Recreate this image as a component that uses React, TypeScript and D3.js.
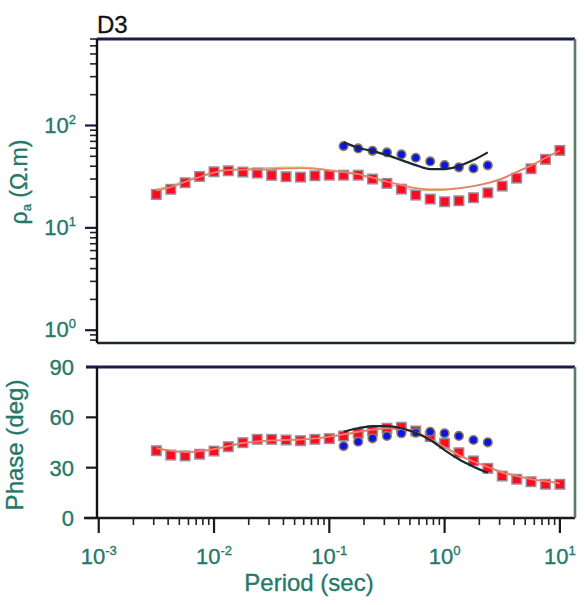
import React from "react";
import * as d3 from "d3";

// Periods (s) of the soundings
const periods = [
  0.00316, 0.00422, 0.00562, 0.0075, 0.01, 0.0133, 0.0178, 0.0237, 0.0316, 0.0422,
  0.0562, 0.075, 0.1, 0.133, 0.178, 0.237, 0.316, 0.422, 0.562, 0.75,
  1.0, 1.33, 1.78, 2.37, 3.16, 4.22, 5.62, 7.5, 10,
];
// Red data (rho_a, phase)
const redRho = [
  21.2, 23.8, 27.6, 31.8, 35.3, 36.1, 35.1, 34.3, 32.6, 31.6,
  31.3, 32.3, 32.7, 32.7, 32.7, 30.0, 27.2, 23.9, 20.9, 19.1,
  18.0, 18.4, 19.7, 22.0, 25.6, 30.6, 37.8, 46.7, 57.1,
];
const redPhase = [
  40.1, 37.5, 37.0, 38.0, 39.9, 42.5, 44.9, 46.9, 46.9, 46.5,
  46.1, 46.9, 47.3, 48.9, 50.5, 52.0, 53.5, 54.1, 51.9, 48.5,
  44.5, 38.9, 34.0, 29.6, 25.0, 23.1, 21.6, 20.1, 20.1,
];
// Red model curves
const redModelRho = [
  23.1, 25.0, 28.1, 31.3, 34.7, 36.7, 37.1, 37.1, 37.5, 38.1,
  38.4, 37.9, 36.3, 35.1, 33.5, 31.0, 28.3, 26.2, 24.5, 23.8,
  23.8, 24.5, 25.6, 27.4, 30.3, 35.1, 40.6, 48.1, 56.9,
];
const redModelPhase = [
  41.6, 40.2, 39.3, 39.9, 41.1, 42.9, 44.7, 45.6, 46.2, 46.5,
  46.8, 47.4, 48.5, 49.8, 51.4, 52.7, 53.5, 53.0, 51.0, 47.1,
  42.3, 37.5, 33.7, 30.4, 27.1, 25.0, 23.2, 21.8, 20.7,
];
const redModel2Rho = [
  23.9, 25.9, 29.0, 32.1, 35.5, 37.5, 37.9, 38.4, 38.8, 39.3,
  39.3, 38.4, 36.7, 34.7, 32.8, 30.0, 27.1, 24.8, 23.4, 23.1,
  23.4, 24.2, 25.6, 27.7, 30.6, 35.5, 41.0, 48.6, 57.5,
];
const redModel2Phase = [
  41.0, 39.5, 38.8, 39.5, 40.8, 42.5, 44.3, 45.3, 46.0, 46.3,
  46.6, 47.0, 48.0, 49.3, 50.8, 52.2, 53.0, 52.6, 50.5, 46.6,
  42.0, 37.6, 34.0, 30.8, 27.6, 25.5, 23.7, 22.3, 21.2,
];
// Blue data
const bluePeriods = [0.133, 0.178, 0.237, 0.316, 0.422, 0.562, 0.75, 1.0, 1.33, 1.78, 2.37];
const blueRho = [62.9, 59.7, 56.6, 54.6, 52.2, 48.4, 44.6, 41.0, 39.0, 38.1, 40.8];
const bluePhase = [42.9, 45.5, 47.5, 48.9, 50.5, 50.8, 51.4, 50.5, 48.9, 46.5, 45.1];
// Black model curve
const blackModelRho = [68.4, 60.6, 56.2, 51.4, 45.9, 41.0, 37.5, 37.5, 40.2, 45.9, 54.6];
const blackModelPhase = [51.4, 53.5, 54.8, 54.8, 53.5, 50.8, 46.5, 40.5, 35.0, 30.6, 27.0];

// Axis ticks
const xMajorTicks = [0.001, 0.01, 0.1, 1, 10];
const xMajorExp = ["-3", "-2", "-1", "0", "1"];
const rhoMajorTicks = [1, 10, 100];
const rhoMajorExp = ["0", "1", "2"];
const phaseTicks = [0, 30, 60, 90];

const W = 585;
const H = 605;
const L = 97;
const R = 575;
const TOP1 = 39;
const BOT1 = 343;
const TOP2 = 367;
const BOT2 = 518;

const TEXT = "#26786a";
const FONT = "'Liberation Sans', Arial, Helvetica, sans-serif";

export default function App() {
  const x = d3.scaleLog().domain([Math.pow(10, -3.015), Math.pow(10, 1.131)]).range([L, R]);
  const yr = d3.scaleLog().domain([0.75, 700]).range([BOT1, TOP1]);
  const yp = d3.scaleLinear().domain([0, 90]).range([BOT2, TOP2]);

  const lineRho = d3.line<[number, number]>().x((d) => x(d[0])).y((d) => yr(d[1])).curve(d3.curveMonotoneX);
  const linePh = d3.line<[number, number]>().x((d) => x(d[0])).y((d) => yp(d[1])).curve(d3.curveMonotoneX);
  const zip = (a: number[], b: number[]) => a.map((v, i) => [v, b[i]] as [number, number]);

  const xMinor = x.ticks().filter((t) => !xMajorTicks.some((m) => Math.abs(m - t) / m < 1e-6));
  const rMinor = yr.ticks().filter((t) => !rhoMajorTicks.some((m) => Math.abs(m - t) / m < 1e-6));

  const sq = 9.5;
  const redMarks = (ys: (v: number) => number, vals: number[]) =>
    periods.map((p, i) => (
      <rect key={i} x={x(p) - sq / 2} y={ys(vals[i]) - sq / 2} width={sq} height={sq}
        fill="#ff0a1e" stroke="#9c8c9c" strokeWidth={1.5} />
    ));
  const blueMarks = (ys: (v: number) => number, vals: number[]) =>
    bluePeriods.map((p, i) => (
      <circle key={i} cx={x(p)} cy={ys(vals[i])} r={4.3} fill="#0a14e6" stroke="#8c7c5c" strokeWidth={1.6} />
    ));

  const txt = { fill: TEXT, stroke: TEXT, strokeWidth: 0.35 };

  return (
    <svg width={W} height={H} style={{ position: "absolute", left: 0, top: 0, background: "#fff" }}
      fontFamily={FONT}>
      {/* Title */}
      <text x={97} y={33} fontSize={24} fill="#111" stroke="#111" strokeWidth={0.3}>D3</text>

      {/* ===== Top panel ===== */}
      {rMinor.map((t, i) => (
        <line key={"rm" + i} x1={L - 7} x2={L} y1={yr(t)} y2={yr(t)} stroke="#222" strokeWidth={1.6} />
      ))}
      {rhoMajorTicks.map((t, i) => (
        <g key={"rM" + i}>
          <line x1={L - 12} x2={L} y1={yr(t)} y2={yr(t)} stroke="#1a1a3a" strokeWidth={2.2} />
          <text x={76} y={yr(t) + 7} textAnchor="end" fontSize={22} {...txt}>
            10<tspan dy={-9} fontSize={13}>{rhoMajorExp[i]}</tspan>
          </text>
        </g>
      ))}
      <text transform={`translate(27,182) rotate(-90)`} textAnchor="middle" fontSize={23} {...txt}>
        ρ<tspan dy={4} fontSize={13}>a</tspan><tspan dy={-4}> (Ω.m)</tspan>
      </text>

      <g>
        <path d={lineRho(zip(periods, redModel2Rho)) || ""} fill="none" stroke="#d6c660" strokeWidth={1.2} />
        {redMarks(yr, redRho)}
        {blueMarks(yr, blueRho)}
        <path d={lineRho(zip(periods, redModelRho)) || ""} fill="none" stroke="#e8806e" strokeWidth={1.8} />
        <path d={lineRho(zip(bluePeriods, blackModelRho)) || ""} fill="none" stroke="#1a2a30" strokeWidth={2.2} />
      </g>

      <line x1={L} x2={R} y1={TOP1} y2={TOP1} stroke="#1c1c4c" strokeWidth={3} />
      <line x1={L} x2={R} y1={BOT1} y2={BOT1} stroke="#1a2a22" strokeWidth={2.4} />
      <line x1={L} x2={L} y1={TOP1} y2={BOT1} stroke="#111" strokeWidth={2.4} />
      <line x1={R} x2={R} y1={TOP1} y2={BOT1} stroke="#5a7a6a" strokeWidth={2.6} />

      {/* ===== Bottom panel ===== */}
      {phaseTicks.map((t, i) => (
        <g key={"p" + i}>
          <line x1={L - 11} x2={L} y1={yp(t)} y2={yp(t)} stroke="#1a1a1a" strokeWidth={2.2} />
          <text x={74} y={yp(t) + 8} textAnchor="end" fontSize={22} {...txt}>{t}</text>
        </g>
      ))}
      <text transform={`translate(23,445) rotate(-90)`} textAnchor="middle" fontSize={24} {...txt}>
        Phase (deg)
      </text>

      <g>
        <path d={linePh(zip(periods, redModel2Phase)) || ""} fill="none" stroke="#d6c660" strokeWidth={1.2} />
        {redMarks(yp, redPhase)}
        {blueMarks(yp, bluePhase)}
        <path d={linePh(zip(periods, redModelPhase)) || ""} fill="none" stroke="#e8806e" strokeWidth={1.8} />
        <path d={linePh(zip(bluePeriods, blackModelPhase)) || ""} fill="none" stroke="#1a2a30" strokeWidth={2.2} />
      </g>

      <line x1={L - 11} x2={R} y1={TOP2} y2={TOP2} stroke="#1c1c4c" strokeWidth={3} />
      <line x1={L - 13} x2={R} y1={BOT2} y2={BOT2} stroke="#1a1a1a" strokeWidth={2.4} />
      <line x1={L} x2={L} y1={TOP2} y2={BOT2} stroke="#111" strokeWidth={2.4} />
      <line x1={R} x2={R} y1={TOP2} y2={BOT2} stroke="#5a7a6a" strokeWidth={2.6} />

      {/* x ticks */}
      {xMinor.map((t, i) => (
        <line key={"xm" + i} x1={x(t)} x2={x(t)} y1={BOT2} y2={BOT2 + 7} stroke="#222" strokeWidth={1.6} />
      ))}
      {xMajorTicks.map((t, i) => (
        <g key={"xM" + i}>
          <line x1={x(t)} x2={x(t)} y1={BOT2} y2={BOT2 + 15} stroke="#1a1a1a" strokeWidth={2.2} />
          <text x={x(t)} y={564} textAnchor="middle" fontSize={22} {...txt}>
            10<tspan dy={-9} fontSize={13}>{xMajorExp[i]}</tspan>
          </text>
        </g>
      ))}
      <text x={309} y={591} textAnchor="middle" fontSize={24} {...txt}>Period (sec)</text>
    </svg>
  );
}
